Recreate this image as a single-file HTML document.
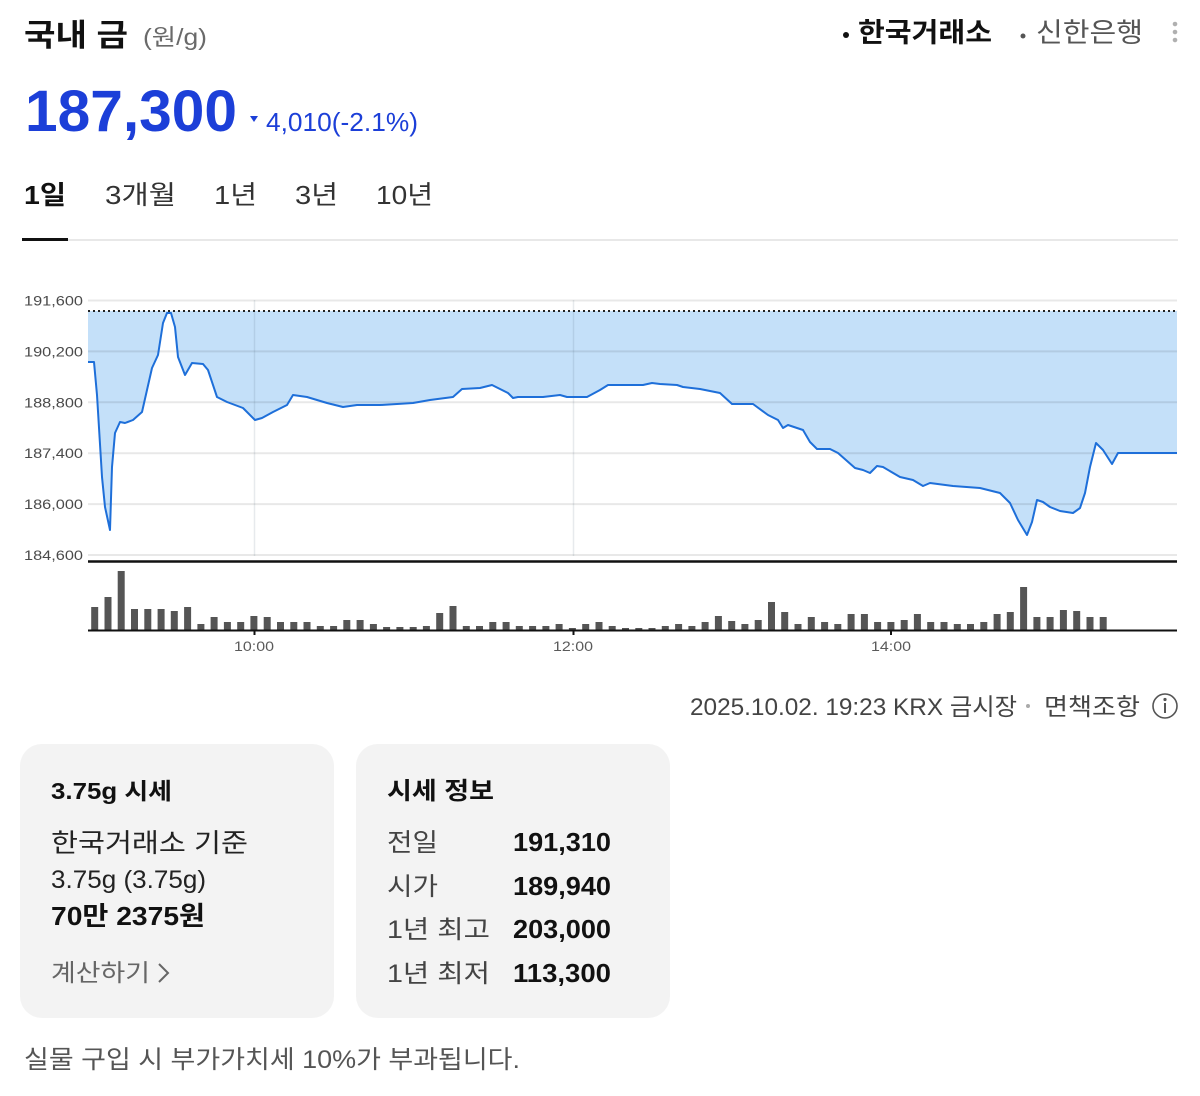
<!DOCTYPE html>
<html><head><meta charset="utf-8"><style>
html,body{margin:0;padding:0;background:#fff;}
body{width:1200px;height:1096px;overflow:hidden;}
svg{display:block;}
text{font-family:"Liberation Sans","Noto Sans CJK KR",sans-serif;}
</style></head><body>
<svg id="s" width="1200" height="1096" viewBox="0 0 1200 1096" xmlns="http://www.w3.org/2000/svg">
<text x="24" y="46" font-size="31" font-weight="700" fill="#111" textLength="104" lengthAdjust="spacingAndGlyphs">국내 금</text>
<text x="143" y="45" font-size="23" fill="#6a6a6a" textLength="64" lengthAdjust="spacingAndGlyphs">(원/g)</text>
<circle cx="846" cy="35" r="3" fill="#111"/>
<text x="858" y="42" font-size="27" font-weight="700" fill="#111" textLength="134" lengthAdjust="spacingAndGlyphs">한국거래소</text>
<circle cx="1023" cy="36" r="2.5" fill="#555"/>
<text x="1036" y="42" font-size="27" fill="#555" textLength="107" lengthAdjust="spacingAndGlyphs">신한은행</text>
<path d="M1175 21.7a2.3 2.3 0 1 0 0.01 0M1175 29.7a2.3 2.3 0 1 0 0.01 0M1175 37.7a2.3 2.3 0 1 0 0.01 0" fill="#b0b0b0"/>
<text x="25" y="131" font-size="58" font-weight="700" fill="#1c3fd8" textLength="212" lengthAdjust="spacingAndGlyphs">187,300</text>
<polygon points="250,116 258,116 254,122" fill="#1c3fd8"/>
<text x="266" y="131" font-size="26" fill="#1c3fd8" textLength="152" lengthAdjust="spacingAndGlyphs">4,010(-2.1%)</text>
<text x="24" y="204" font-size="26" font-weight="700" fill="#111" textLength="42" lengthAdjust="spacingAndGlyphs">1일</text>
<text x="105" y="204" font-size="26" fill="#333" textLength="71" lengthAdjust="spacingAndGlyphs">3개월</text>
<text x="214" y="204" font-size="26" fill="#333" textLength="43" lengthAdjust="spacingAndGlyphs">1년</text>
<text x="295" y="204" font-size="26" fill="#333" textLength="43" lengthAdjust="spacingAndGlyphs">3년</text>
<text x="376" y="204" font-size="26" fill="#333" textLength="57" lengthAdjust="spacingAndGlyphs">10년</text>
<rect x="68" y="239" width="1110" height="2" fill="#e8e8e8"/>
<rect x="22" y="238" width="46" height="3" fill="#111"/>
<polygon id="area" fill="#c4e0f9" points=""/>
<path d="M88 300.5H1177M88 351.4H1177M88 402.3H1177M88 453.2H1177M88 504.1H1177M88 555H1177" stroke="rgba(0,0,0,0.09)" stroke-width="2"/>
<path d="M254.5 300V556M573.5 300V556" stroke="rgba(60,80,110,0.12)" stroke-width="1.5"/>
<line x1="88" y1="311" x2="1177" y2="311" stroke="#222" stroke-width="2" stroke-dasharray="2 3"/>
<polyline id="ln" fill="none" stroke="#1e6fd9" stroke-width="2" stroke-linejoin="round" points=""/>
<g font-size="14" fill="#4a4a4a" text-anchor="end" lengthAdjust="spacingAndGlyphs">
<text x="83" y="305.5" textLength="59">191,600</text>
<text x="83" y="356.4" textLength="59">190,200</text>
<text x="83" y="407.3" textLength="59">188,800</text>
<text x="83" y="458.2" textLength="59">187,400</text>
<text x="83" y="509.1" textLength="59">186,000</text>
<text x="83" y="560" textLength="59">184,600</text>
</g>
<line x1="88" y1="561.5" x2="1177" y2="561.5" stroke="#111" stroke-width="2.5"/>
<path id="bars" fill="#555" d=""/>
<line x1="88" y1="630.5" x2="1177" y2="630.5" stroke="#111" stroke-width="2"/>
<path d="M254.5 630V635M573.5 630V635M891 630V635" stroke="#111" stroke-width="2"/>
<g font-size="14" fill="#5a5a5a" text-anchor="middle">
<text x="254" y="651" textLength="40">10:00</text>
<text x="573" y="651" textLength="40">12:00</text>
<text x="891" y="651" textLength="40">14:00</text>
</g>
<text x="690" y="715" font-size="24" fill="#444" textLength="327" lengthAdjust="spacingAndGlyphs">2025.10.02. 19:23 KRX 금시장</text>
<circle cx="1028" cy="706" r="2" fill="#aaa"/>
<text x="1044" y="715" font-size="24" fill="#444" textLength="96" lengthAdjust="spacingAndGlyphs">면책조항</text>
<circle cx="1165" cy="706" r="12" fill="none" stroke="#555" stroke-width="1.6"/>
<circle cx="1165" cy="699.5" r="1.6" fill="#555"/>
<rect x="1164" y="703" width="2" height="10" fill="#555"/>
<rect x="20" y="744" width="314" height="274" rx="22" fill="#f3f3f3"/>
<rect x="356" y="744" width="314" height="274" rx="22" fill="#f3f3f3"/>
<text x="51" y="799" font-size="23" font-weight="700" fill="#111" textLength="121" lengthAdjust="spacingAndGlyphs">3.75g 시세</text>
<text x="51" y="852" font-size="26" fill="#222" textLength="197" lengthAdjust="spacingAndGlyphs">한국거래소 기준</text>
<text x="51" y="888" font-size="25" fill="#222" textLength="155" lengthAdjust="spacingAndGlyphs">3.75g (3.75g)</text>
<text x="51" y="925" font-size="26" font-weight="700" fill="#111" textLength="154" lengthAdjust="spacingAndGlyphs">70만 2375원</text>
<text x="51" y="981" font-size="24" fill="#666" textLength="99" lengthAdjust="spacingAndGlyphs">계산하기</text>
<polyline points="159,964 168,973 159,982" fill="none" stroke="#666" stroke-width="2"/>
<text x="387" y="799" font-size="24" font-weight="700" fill="#111" textLength="107" lengthAdjust="spacingAndGlyphs">시세 정보</text>
<g font-size="25" fill="#444">
<text x="387" y="851" textLength="51">전일</text>
<text x="387" y="895" textLength="51">시가</text>
<text x="387" y="938" textLength="103">1년 최고</text>
<text x="387" y="982" textLength="103">1년 최저</text>
</g>
<g font-size="26" font-weight="700" fill="#111">
<text x="513" y="851" textLength="98">191,310</text>
<text x="513" y="895" textLength="98">189,940</text>
<text x="513" y="938" textLength="98">203,000</text>
<text x="513" y="982" textLength="98">113,300</text>
</g>
<text x="24" y="1068" font-size="25" fill="#555" textLength="496" lengthAdjust="spacingAndGlyphs">실물 구입 시 부가가치세 10%가 부과됩니다.</text>
</svg>
<script>
var P="88,362 94,362 97,395 102,477 105,507 110,530 112,467 115,433 120,422 125,423 133,420 142,412 147,390 152,368 158,355 163,323 167,313 171,313 175,327 178,357 185,375 192,363 203,364 208,370 217,397 227,402 243,408 255,420 262,418 273,412 287,405 293,395 307,397 327,403 343,407 357,405 380,405 413,403 430,400 453,397 462,389 480,388 492,385 502,390 508,393 513,398 518,397 543,397 560,395 567,397 587,397 600,390 608,385 643,385 652,383 660,384 677,385 683,387 700,389 720,393 732,404 753,404 768,415 778,420 783,428 788,425 803,430 810,442 817,449 830,449 838,453 855,468 863,470 870,473 877,466 883,467 900,477 913,480 923,486 930,483 953,486 980,488 1000,493 1010,503 1018,520 1027,535 1032,522 1037,500 1043,502 1050,507 1060,511 1073,513 1080,508 1085,493 1090,467 1096,443 1103,450 1112,464 1118,453 1177,453";
document.getElementById("ln").setAttribute("points",P);
document.getElementById("area").setAttribute("points","88,311 "+P+" 1177,311");
var H=[23,33,59,21,21,21,19,23,6,13,8,8,14,13,8,8,8,4,4,10,10,6,3,3,3,4,17,24,4,4,8,8,4,4,4,6,2,6,8,4,2,2,2,4,6,4,8,14,9,6,10,28,18,6,13,8,6,16,16,8,8,10,16,8,8,6,6,8,16,18,43,13,13,20,19,13,13];
var d="";
for(var i=0;i<H.length;i++){var x=(91.2+13.27*i).toFixed(1);d+="M"+x+" 630v-"+H[i]+"h7V630z";}
document.getElementById("bars").setAttribute("d",d);
var t=document.querySelectorAll("text[textLength]");
for(var j=0;j<t.length;j++){t[j].setAttribute("lengthAdjust","spacingAndGlyphs");}
</script>
</body></html>
